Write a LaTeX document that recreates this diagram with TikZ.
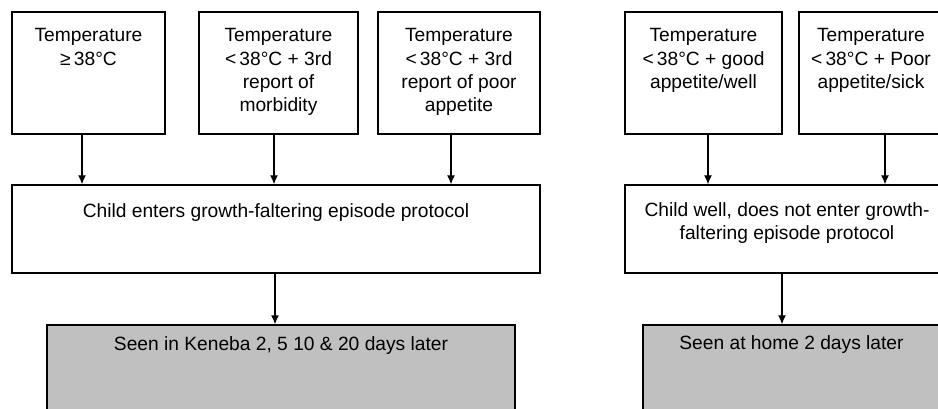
\documentclass[tikz,border=0pt]{standalone}
\usepackage{fontspec}
\setmainfont{Liberation Sans}
\usepackage{tikz}
\usetikzlibrary{positioning,arrows.meta}
\definecolor{boxgray}{RGB}{192, 192, 192}
\tikzstyle{box} = [rectangle, draw=black, line width=1.3pt, fill=white, inner sep=0pt]
\tikzstyle{greybox} = [box, fill=boxgray]
\tikzstyle{textonly} = [draw=none, fill=none, inner sep=0pt, align=center, font=\fontsize{19.2}{23.3}\selectfont]
\tikzstyle{tedge}  = [draw, line width=1.3pt, -{Latex[length=9pt,width=8pt]}]

\begin{document}
\begin{tikzpicture}[x=1pt, y=-1pt]
\useasboundingbox (0,0) rectangle (938,409);
\clip (0,0) rectangle (938,409);

% criteria =============================
\node[box, minimum width=153pt, minimum height=122pt] (t1) at (88.5,73) {};
\node[box, minimum width=159pt, minimum height=122pt] (t2) at (278.5,73) {};
\node[box, minimum width=162pt, minimum height=122pt] (t3) at (459,73) {};
\node[box, minimum width=157pt, minimum height=122pt] (t4) at (703.5,73) {};
\node[box, minimum width=144pt, minimum height=122pt] (t5) at (871,73) {};
\node[textonly, below=17pt of t1.north] (t1txt) {Temperature\\≥\,38°C};
\node[textonly, below=17pt of t2.north] (t2txt) {Temperature\\<\,38°C + 3rd\\report of\\morbidity};
\node[textonly, below=17pt of t3.north] (t3txt) {Temperature\\<\,38°C + 3rd\\report of poor\\appetite};
\node[textonly, below=17pt of t4.north] (t4txt) {Temperature\\<\,38°C + good\\appetite/well};
\node[textonly, below=17pt of t5.north] (t5txt) {Temperature\\<\,38°C + Poor\\appetite/sick};

% decisions
\node[box, minimum width=528pt, minimum height=88pt] (m1) at (276,229) {};
\node[box, minimum width=324pt, minimum height=88pt] (m2) at (787,229) {};
\node[textonly, below=19pt of m1.north] (m1txt) {Child enters growth-faltering episode protocol};
\node[textonly, below=18pt of m2.north] (m2txt) {Child well, does not enter growth-\\faltering episode protocol};

% follow-up
\node[greybox, minimum width=468pt, minimum height=110pt] (g1) at (281,380) {};
\node[greybox, minimum width=297pt, minimum height=110pt] (g2) at (791.5,380) {};
\node[textonly, below=12pt of g1.north] (g1txt) {Seen in Keneba 2, 5 10 \& 20 days later};
\node[textonly, below=11pt of g2.north] (g2txt) {Seen at home 2 days later};

% edges
\path[tedge] ([xshift=-6.5pt]t1.south) -- ([xshift=-6.5pt]t1.south |- m1.north);
\path[tedge] ([xshift=-4.5pt]t2.south) -- ([xshift=-4.5pt]t2.south |- m1.north);
\path[tedge] ([xshift=-8pt]t3.south) -- ([xshift=-8pt]t3.south |- m1.north);
\path[tedge] ([xshift=4.5pt]t4.south) -- ([xshift=4.5pt]t4.south |- m2.north);
\path[tedge] ([xshift=14pt]t5.south) -- ([xshift=14pt]t5.south |- m2.north);
\path[tedge] ([xshift=-1pt]m1.south) -- ([xshift=-1pt]m1.south |- g1.north);
\path[tedge] ([xshift=-5pt]m2.south) -- ([xshift=-5pt]m2.south |- g2.north);

\end{tikzpicture}
\end{document}
